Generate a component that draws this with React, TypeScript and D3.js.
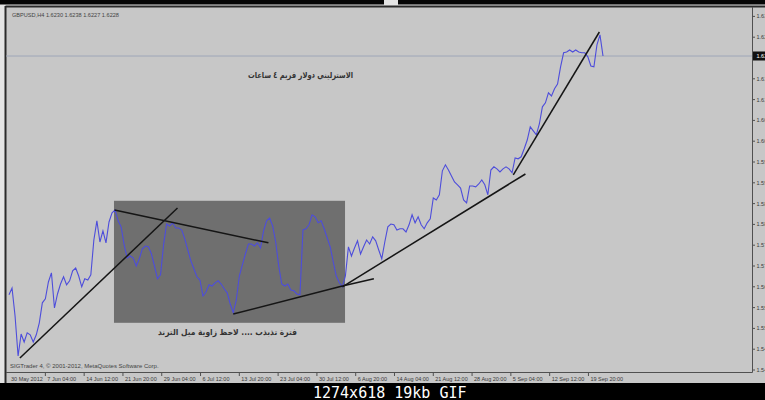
import React, { useEffect, useRef } from 'react';
import * as d3 from 'd3';

// GBPUSD H4 closes, one reading every 2.5 bars (30 May - 21 Sep 2012)
const closes = [
  1.5631, 1.5648, 1.5578, 1.5478, 1.5533, 1.5513, 1.5536, 1.5531, 1.5513, 1.5531,
  1.5561, 1.5611, 1.5621, 1.5663, 1.5686, 1.5598, 1.5633, 1.5658, 1.5676, 1.5656,
  1.5666, 1.5691, 1.5698, 1.5678, 1.5651, 1.5671, 1.5668, 1.5681, 1.5768, 1.5816,
  1.5763, 1.5791, 1.5761, 1.5813, 1.5836, 1.5843, 1.5816, 1.5801, 1.5756, 1.5723,
  1.5728, 1.5723, 1.5703, 1.5721, 1.5746, 1.5753, 1.5751, 1.5733, 1.5703, 1.5671,
  1.5681, 1.5756, 1.5808, 1.5803, 1.5811, 1.5798, 1.5798, 1.5793, 1.5771, 1.5743,
  1.5716, 1.5696, 1.5676, 1.5668, 1.5628, 1.5638, 1.5656, 1.5653, 1.5661, 1.5666,
  1.5658, 1.5646, 1.5636, 1.5608, 1.5586, 1.5618, 1.5678, 1.5706, 1.5733, 1.5758,
  1.5758, 1.5753, 1.5761, 1.5748, 1.5791, 1.5816, 1.5823, 1.5803, 1.5763, 1.5703,
  1.5658, 1.5653, 1.5658, 1.5643, 1.5641, 1.5633, 1.5631, 1.5793, 1.5796, 1.5806,
  1.5831, 1.5826, 1.5811, 1.5816, 1.5796, 1.5773, 1.5751, 1.5713, 1.5678, 1.5661,
  1.5651, 1.5678, 1.5751, 1.5728, 1.5748, 1.5766, 1.5733, 1.5751, 1.5768, 1.5758,
  1.5776, 1.5766, 1.5743, 1.5721, 1.5763, 1.5801, 1.5808, 1.5806, 1.5793, 1.5796,
  1.5796, 1.5788, 1.5806, 1.5831, 1.5811, 1.5826, 1.5806, 1.5796, 1.5811, 1.5821,
  1.5873, 1.5868, 1.5881, 1.5941, 1.5956, 1.5943, 1.5928, 1.5913, 1.5906, 1.5898,
  1.5868, 1.5861, 1.5903, 1.5903, 1.5901, 1.5908, 1.5918, 1.5906, 1.5881, 1.5943,
  1.5951, 1.5946, 1.5938, 1.5946, 1.5951, 1.5946, 1.5936, 1.5973, 1.5971, 1.5976,
  1.5996, 1.6018, 1.6051, 1.6041, 1.6031, 1.6058, 1.6101, 1.6111, 1.6136, 1.6128,
  1.6146, 1.6158, 1.6201, 1.6236, 1.6238, 1.6243, 1.6238, 1.6243, 1.6238, 1.6236,
  1.6236, 1.6226, 1.6203, 1.6201, 1.6256, 1.6281, 1.6228
];
const barsPerSample = 2.5;
const lastPrice = 1.6228;

const timeLabels = [
  '30 May 2012', '7 Jun 04:00', '14 Jun 12:00', '21 Jun 20:00', '29 Jun 04:00',
  '6 Jul 12:00', '13 Jul 20:00', '23 Jul 04:00', '30 Jul 12:00', '6 Aug 20:00',
  '14 Aug 04:00', '21 Aug 12:00', '28 Aug 20:00', '5 Sep 04:00', '12 Sep 12:00', '19 Sep 20:00'
];
const timeLabelBars = [0, 30, 62, 94, 126, 158, 190, 222, 254, 286, 318, 350, 382, 414, 446, 478];

const priceTicks = [
  1.5443, 1.5495, 1.5547, 1.5599, 1.5651, 1.5703, 1.5755, 1.5807, 1.5859,
  1.5911, 1.5963, 1.6015, 1.6067, 1.6119, 1.6171, 1.6223, 1.6275, 1.6327
];

// hand drawn trend lines: [bar, price] pairs
const trendLines: [number, number][][] = [
  [[9, 1.5473], [139, 1.5848]],
  [[87, 1.5843], [214, 1.5761]],
  [[185, 1.5583], [275, 1.5653]],
  [[275, 1.5653], [301, 1.5671]],
  [[275, 1.5651], [426, 1.5933]],
  [[416, 1.5931], [487, 1.6288]]
];
// ranging zone rectangle
const zoneBars = [86.6, 277.2];
const zonePrices = [1.5561, 1.5866];

const titleText = 'الاسترليني دولار فريم ٤ ساعات';
const zoneText = 'فترة تذبذب .... لاحظ زاوية ميل الترند';

export default function App() {
  const ref = useRef<SVGSVGElement>(null);

  useEffect(() => {
    if (!ref.current) return;
    const svg = d3.select(ref.current);
    svg.selectAll('*').remove();

    const W = 765, H = 400;
    const left = 6, right = 752, top = 7, bottom = 372;

    const x = d3.scaleLinear().domain([0, 490]).range([9, 603]);
    const y = d3.scaleLinear().domain([1.5443, 1.6327]).range([370, 16.4]);

    // page + window
    svg.append('rect').attr('width', W).attr('height', H).attr('fill', '#e4e4e4');
    svg.append('rect').attr('x', 0).attr('y', 0).attr('width', 384).attr('height', 4.5).attr('fill', '#050505');
    svg.append('rect').attr('x', 398).attr('y', 0).attr('width', W - 398).attr('height', 4.5).attr('fill', '#050505');
    svg.append('rect').attr('x', left).attr('y', top).attr('width', W - left).attr('height', 383 - top).attr('fill', '#c7c7c7');

    // dark window frame
    svg.append('line').attr('x1', left - 0.5).attr('x2', W).attr('y1', top - 0.5).attr('y2', top - 0.5)
      .attr('stroke', '#2a2a2a').attr('stroke-width', 2);
    svg.append('line').attr('x1', left - 0.5).attr('x2', left - 0.5).attr('y1', top - 1).attr('y2', 383)
      .attr('stroke', '#2a2a2a').attr('stroke-width', 2);

    // ranging zone
    svg.append('rect')
      .attr('x', x(zoneBars[0]))
      .attr('y', y(zonePrices[1]))
      .attr('width', x(zoneBars[1]) - x(zoneBars[0]))
      .attr('height', y(zonePrices[0]) - y(zonePrices[1]))
      .attr('fill', '#6f6f6f');

    // last price line
    svg.append('line').attr('x1', left).attr('x2', right)
      .attr('y1', y(lastPrice)).attr('y2', y(lastPrice))
      .attr('stroke', '#9ea6b8').attr('stroke-width', 1);

    // price series
    const line = d3.line<number>()
      .x((_, i) => x(i * barsPerSample))
      .y(d => y(d));
    svg.append('path')
      .datum(closes)
      .attr('d', line)
      .attr('fill', 'none')
      .attr('stroke', '#4d4ddb')
      .attr('stroke-width', 1.1);

    // trend lines
    trendLines.forEach(seg => {
      svg.append('line')
        .attr('x1', x(seg[0][0])).attr('y1', y(seg[0][1]))
        .attr('x2', x(seg[1][0])).attr('y2', y(seg[1][1]))
        .attr('stroke', '#151515').attr('stroke-width', 1.5);
    });

    // plot borders
    svg.append('line').attr('x1', right + 0.5).attr('x2', right + 0.5).attr('y1', top).attr('y2', bottom + 0.5)
      .attr('stroke', '#505050').attr('stroke-width', 1);
    svg.append('line').attr('x1', left).attr('x2', right + 0.5).attr('y1', bottom + 0.5).attr('y2', bottom + 0.5)
      .attr('stroke', '#505050').attr('stroke-width', 1);

    const small = '"Liberation Sans", Arial, sans-serif';

    // price axis (labels are cut by the window edge, as in the screenshot)
    priceTicks.forEach(p => {
      svg.append('line').attr('x1', right).attr('x2', right + 3).attr('y1', y(p)).attr('y2', y(p))
        .attr('stroke', '#505050');
      if (Math.abs(y(p) - y(lastPrice)) < 7) return;
      svg.append('text').attr('x', right + 4.5).attr('y', y(p) + 2)
        .attr('font-family', small).attr('font-size', 5.5).attr('fill', '#3a3a3a')
        .text(p.toFixed(4));
    });
    svg.append('rect').attr('x', right + 1).attr('y', y(lastPrice) - 4.5).attr('width', W - right).attr('height', 9)
      .attr('fill', '#111');
    svg.append('text').attr('x', right + 4.5).attr('y', y(lastPrice) + 2)
      .attr('font-family', small).attr('font-size', 5.5).attr('fill', '#fff')
      .text(lastPrice.toFixed(4));

    // time axis
    timeLabels.forEach((lab, i) => {
      const xp = x(timeLabelBars[i]);
      if (i > 0) {
        svg.append('line').attr('x1', xp).attr('x2', xp).attr('y1', bottom).attr('y2', bottom + 4)
          .attr('stroke', '#505050');
      }
      svg.append('text').attr('x', xp + 2).attr('y', bottom + 8.5)
        .attr('font-family', small).attr('font-size', 5.5).attr('fill', '#3a3a3a')
        .text(lab);
    });

    // chart captions
    svg.append('text').attr('x', 12).attr('y', 17)
      .attr('font-family', small).attr('font-size', 5.6).attr('fill', '#444')
      .text('GBPUSD,H4 1.6230 1.6238 1.6227 1.6228');
    svg.append('text').attr('x', 10).attr('y', 368)
      .attr('font-family', small).attr('font-size', 6).attr('fill', '#444')
      .text('SIGTrader 4, © 2001-2012, MetaQuotes Software Corp.');

    svg.append('text').attr('x', 248).attr('y', 78)
      .attr('textLength', 105).attr('lengthAdjust', 'spacingAndGlyphs')
      .attr('direction', 'rtl').attr('text-anchor', 'end')
      .attr('font-family', '"DejaVu Sans", sans-serif').attr('font-size', 8.5).attr('font-weight', 'bold')
      .attr('fill', '#333')
      .text(titleText);
    svg.append('text').attr('x', 158).attr('y', 335)
      .attr('textLength', 139).attr('lengthAdjust', 'spacingAndGlyphs')
      .attr('direction', 'rtl').attr('text-anchor', 'end')
      .attr('font-family', '"DejaVu Sans", sans-serif').attr('font-size', 8.5).attr('font-weight', 'bold')
      .attr('fill', '#333')
      .text(zoneText);

    // gif info strip
    svg.append('rect').attr('x', 0).attr('y', 383).attr('width', W).attr('height', H - 383).attr('fill', '#000');
    svg.append('text').attr('x', 313).attr('y', 397.5)
      .attr('font-family', '"DejaVu Sans Mono", monospace').attr('font-size', 15).attr('fill', '#fff')
      .text('1274x618 19kb GIF');
  }, []);

  return (
    <svg ref={ref} width={765} height={400}
      style={{ position: 'absolute', left: 0, top: 0, display: 'block' }} />
  );
}
